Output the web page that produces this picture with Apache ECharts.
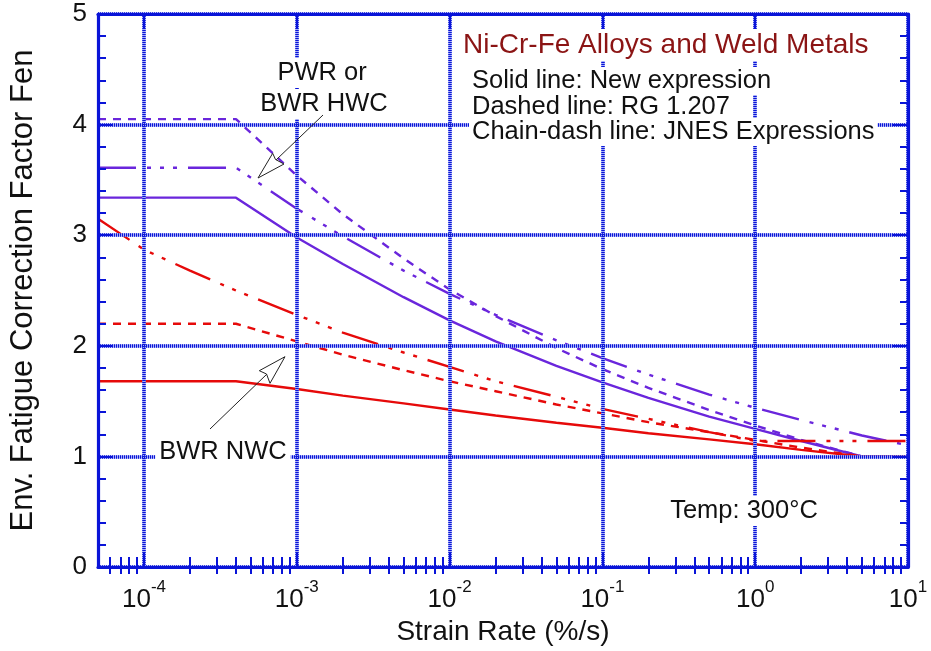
<!DOCTYPE html>
<html><head><meta charset="utf-8">
<script src="https://cdn.jsdelivr.net/npm/echarts@6/dist/echarts.min.js"></script>
<style>html,body{margin:0;padding:0;background:#fff}#c{width:931px;height:651px}</style>
</head><body><div id="c"></div>
<script>
// ---- data ----
const strainRates = [5e-5, 1e-4, 2e-4, 4e-4, 1e-3, 2e-3, 5e-3, 1e-2, 2e-2, 5e-2, 0.1, 0.2, 0.5, 1, 2, 5, 10];
// Solid lines: new expression
const pwrNew = [3.34, 3.34, 3.34, 3.34, 2.98, 2.74, 2.44, 2.23, 2.04, 1.82, 1.67, 1.53, 1.36, 1.25, 1.14, 1.0, 1.0];
const nwcNew = [1.68, 1.68, 1.68, 1.68, 1.61, 1.55, 1.48, 1.425, 1.37, 1.305, 1.26, 1.21, 1.155, 1.11, 1.06, 1.0, 1.0];
// Dashed lines: RG 1.207
const pwrRG = [4.05, 4.05, 4.05, 4.05, 3.54, 3.19, 2.79, 2.51, 2.27, 1.98, 1.79, 1.62, 1.42, 1.28, 1.15, 1.0, 1.0];
const nwcRG = [2.2, 2.2, 2.2, 2.2, 2.04, 1.92, 1.78, 1.68, 1.59, 1.47, 1.39, 1.31, 1.22, 1.15, 1.08, 1.0, 1.0];
// Chain-dash lines: JNES expressions
const pwrJNES = [3.61, 3.61, 3.61, 3.61, 3.24, 2.99, 2.68, 2.47, 2.28, 2.05, 1.89, 1.74, 1.56, 1.44, 1.33, 1.19, 1.10];
const nwcJNES = [3.15, 2.87, 2.68, 2.50, 2.28, 2.12, 1.94, 1.81, 1.68, 1.54, 1.43, 1.34, 1.22, 1.14, 1.14, 1.14, 1.14];
// axis ticks
const majorTicks = [1e-4, 1e-3, 1e-2, 1e-1, 1, 10];
const majorExponents = ['-4', '-3', '-2', '-1', '0', '1'];
const minorTicks = [6e-5, 7e-5, 8e-5, 9e-5,
  2e-4, 3e-4, 4e-4, 5e-4, 6e-4, 7e-4, 8e-4, 9e-4,
  2e-3, 3e-3, 4e-3, 5e-3, 6e-3, 7e-3, 8e-3, 9e-3,
  2e-2, 3e-2, 4e-2, 5e-2, 6e-2, 7e-2, 8e-2, 9e-2,
  0.2, 0.3, 0.4, 0.5, 0.6, 0.7, 0.8, 0.9,
  2, 3, 4, 5, 6, 7, 8, 9];
const yTicks = ['0', '1', '2', '3', '4', '5'];

// ---- styles ----
const BLUE = '#0a14d8';
const LIGHTBLUE = '#a4acf6';
const PURPLE = '#6a26dc';
const RED = '#e60a0a';
const FONT = '"Liberation Sans", Arial, Helvetica, sans-serif';
const DASH = [8, 7];
const CHAIN = [38, 11, 4, 9, 4, 9, 4, 11];
const GRID_DARK = {show: true, lineStyle: {color: BLUE, width: 3.5, type: [1, 1]}};
const GRID_LIGHT = {show: true, lineStyle: {color: LIGHTBLUE, width: 3.5, type: 'solid'}};

const chart = echarts.init(document.getElementById('c'), null, {renderer: 'canvas'});

function line(name, vals, color, type) {
  return {
    type: 'line', name: name, xAxisIndex: 0, yAxisIndex: 0,
    data: strainRates.map((x, i) => [x, vals[i]]),
    symbol: 'none', silent: true, z: 2,
    lineStyle: {color: color, width: 2.4, type: type, cap: 'butt'}
  };
}

function xAx(pos, ticks, len, extra) {
  return Object.assign({
    type: 'log', logBase: 10, min: 5e-5, max: 10, position: pos, z: 3,
    axisLine: {show: false},
    axisTick: {show: true, inside: true, length: len, customValues: ticks, lineStyle: {color: BLUE, width: 2}},
    minorTick: {show: false},
    axisLabel: {show: false},
    splitLine: {show: false}
  }, extra || {});
}

const option = {
  animation: false,
  backgroundColor: '#fff',
  grid: {left: 98, right: 23, top: 14, bottom: 83, containLabel: false},
  xAxis: [
    xAx('bottom', majorTicks, 15, {
      z: 4,
      axisLine: {show: true, onZero: false, lineStyle: {color: BLUE, width: 3.2}},
      axisLabel: {
        show: true, customValues: majorTicks, margin: 12,
        formatter: function (v) {
          const i = majorTicks.findIndex(t => Math.abs(Math.log10(t) - Math.log10(v)) < 1e-6);
          return '{b|10}{s|' + majorExponents[i] + '}';
        },
        rich: {
          b: {fontSize: 26, fontFamily: FONT, color: '#111', padding: [8, 0, 0, 0], verticalAlign: 'bottom'},
          s: {fontSize: 17, fontFamily: FONT, color: '#111', verticalAlign: 'top'}
        }
      },
      splitLine: GRID_DARK,
      name: 'Strain Rate (%/s)', nameLocation: 'middle', nameGap: 50,
      nameTextStyle: {fontSize: 28, fontFamily: FONT, color: '#111'}
    }),
    xAx('bottom', minorTicks, 10),
    xAx('top', majorTicks, 15, {
      axisLine: {show: true, onZero: false, lineStyle: {color: BLUE, width: 3.2}},
      splitLine: GRID_LIGHT
    }),
    xAx('top', minorTicks, 7)
  ],
  yAxis: [
    {
      type: 'value', min: 0, max: 5, interval: 1, position: 'left', z: 4,
      axisLine: {show: true, onZero: false, lineStyle: {color: BLUE, width: 3.2}},
      axisTick: {show: true, inside: true, length: 15, lineStyle: {color: BLUE, width: 2}},
      minorTick: {show: true, splitNumber: 5, length: 8, lineStyle: {color: BLUE, width: 2}},
      axisLabel: {show: true, margin: 11, fontSize: 26, fontFamily: FONT, color: '#111',
        formatter: function (v) { return yTicks[Math.round(v)]; }},
      splitLine: GRID_DARK,
      name: 'Env. Fatigue Correction Factor Fen', nameLocation: 'middle', nameGap: 59,
      nameTextStyle: {fontSize: 31, fontFamily: FONT, color: '#111'}
    },
    {
      type: 'value', min: 0, max: 5, interval: 1, position: 'right', z: 3,
      axisLine: {show: true, onZero: false, lineStyle: {color: BLUE, width: 3.2}},
      axisTick: {show: true, inside: true, length: 15, lineStyle: {color: BLUE, width: 2}},
      minorTick: {show: true, splitNumber: 5, length: 8, lineStyle: {color: BLUE, width: 2}},
      axisLabel: {show: false},
      splitLine: GRID_LIGHT
    }
  ],
  series: [
    line('PWR new', pwrNew, PURPLE, 'solid'),
    line('PWR RG 1.207', pwrRG, PURPLE, DASH),
    line('PWR JNES', pwrJNES, PURPLE, CHAIN),
    line('NWC new', nwcNew, RED, 'solid'),
    line('NWC RG 1.207', nwcRG, RED, DASH),
    line('NWC JNES', nwcJNES, RED, CHAIN)
  ],
  graphic: [
    {type: 'text', x: 460, y: 45, z: 100, style: {text: 'Ni-Cr-Fe Alloys and Weld Metals', fill: '#8b1414',
      font: '28px ' + FONT, textAlign: 'left', textVerticalAlign: 'middle', align: 'left', verticalAlign: 'middle',
      backgroundColor: '#fff', padding: [2, 3]}},
    {type: 'text', x: 469, y: 81, z: 100, style: {text: 'Solid line: New expression', fill: '#111',
      font: '25.5px ' + FONT, textAlign: 'left', textVerticalAlign: 'middle', align: 'left', verticalAlign: 'middle',
      backgroundColor: '#fff', padding: [1, 3]}},
    {type: 'text', x: 469, y: 107, z: 100, style: {text: 'Dashed line: RG 1.207', fill: '#111',
      font: '25.5px ' + FONT, textAlign: 'left', textVerticalAlign: 'middle', align: 'left', verticalAlign: 'middle',
      backgroundColor: '#fff', padding: [1, 3]}},
    {type: 'text', x: 469, y: 132, z: 100, style: {text: 'Chain-dash line: JNES Expressions', fill: '#111',
      font: '25.5px ' + FONT, textAlign: 'left', textVerticalAlign: 'middle', align: 'left', verticalAlign: 'middle',
      backgroundColor: '#fff', padding: [1, 3]}},
    {type: 'text', x: 744, y: 511, z: 100, style: {text: 'Temp: 300°C', fill: '#111',
      font: '25.5px ' + FONT, textAlign: 'center', textVerticalAlign: 'middle', align: 'center', verticalAlign: 'middle',
      backgroundColor: '#fff', padding: [2, 4]}},
    {type: 'text', x: 322, y: 73, z: 100, style: {text: 'PWR or', fill: '#111',
      font: '25.5px ' + FONT, textAlign: 'center', textVerticalAlign: 'middle', align: 'center', verticalAlign: 'middle',
      backgroundColor: '#fff', padding: [2, 3]}},
    {type: 'text', x: 324, y: 104, z: 100, style: {text: 'BWR HWC', fill: '#111',
      font: '25.5px ' + FONT, textAlign: 'center', textVerticalAlign: 'middle', align: 'center', verticalAlign: 'middle',
      backgroundColor: '#fff', padding: [2, 3]}},
    {type: 'text', x: 223, y: 452, z: 100, style: {text: 'BWR NWC', fill: '#111',
      font: '25.5px ' + FONT, textAlign: 'center', textVerticalAlign: 'middle', align: 'center', verticalAlign: 'middle',
      backgroundColor: '#fff', padding: [2, 4]}},
    // arrows
    {type: 'polyline', z: 100, shape: {points: [[323, 115], [276, 160]]}, style: {stroke: '#222', lineWidth: 1, fill: null}},
    {type: 'polygon', z: 101, shape: {points: [[258, 178], [272.7, 153.3], [275.5, 159.5], [284, 164]]},
      style: {fill: '#fff', stroke: '#222', lineWidth: 1}},
    {type: 'polyline', z: 100, shape: {points: [[210, 429], [267, 374]]}, style: {stroke: '#222', lineWidth: 1, fill: null}},
    {type: 'polygon', z: 101, shape: {points: [[285, 356.7], [259.3, 370.7], [266.5, 374], [270, 383.3]]},
      style: {fill: '#fff', stroke: '#222', lineWidth: 1}}
  ]
};
chart.setOption(option);
</script>
</body></html>
